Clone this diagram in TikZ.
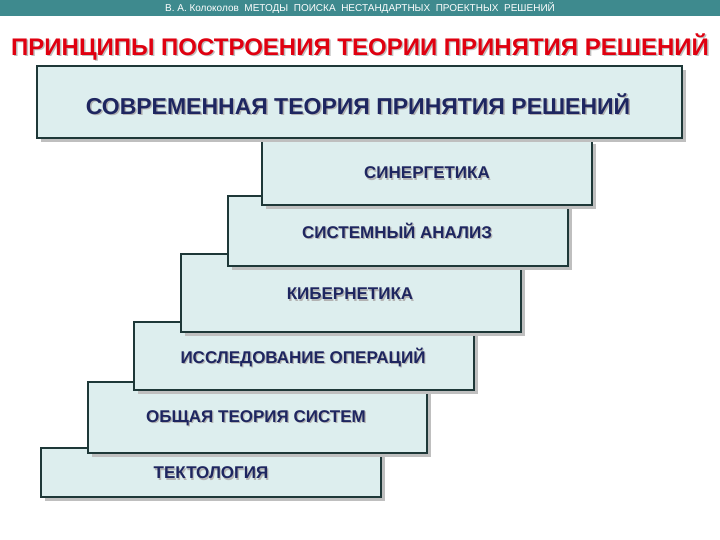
\documentclass[tikz,border=0pt]{standalone}
\usepackage{fontspec}
\setmainfont{Liberation Sans}
\definecolor{bar}{HTML}{3E8A8E}
\definecolor{boxfill}{HTML}{DDEEEE}
\definecolor{boxline}{HTML}{1E3838}
\definecolor{navy}{HTML}{1E2660}
\definecolor{ttl}{HTML}{E00010}
\begin{document}
\begin{tikzpicture}[x=1pt,y=-1pt,
  stepbox/.style={draw=boxline,line width=1.6pt,fill=boxfill},
  shad/.style={fill=black!25},
  lab/.style={font=\bfseries\fontsize{17}{19}\selectfont,text=navy}]
\useasboundingbox (0,0) rectangle (720,540);
\fill[white] (0,0) rectangle (720,540);
\fill[bar] (0,0) rectangle (720,16);
\node[text=white,font=\fontsize{10}{11}\selectfont] (hdr) at (360,8) {В. А. Колоколов \ МЕТОДЫ \ ПОИСКА \ НЕСТАНДАРТНЫХ \ ПРОЕКТНЫХ \ РЕШЕНИЙ};
\node[text=black!25,font=\bfseries\fontsize{24}{27}\selectfont] at (361.5,48.5) {ПРИНЦИПЫ ПОСТРОЕНИЯ ТЕОРИИ ПРИНЯТИЯ РЕШЕНИЙ};
\node[text=ttl,font=\bfseries\fontsize{24}{27}\selectfont] (title) at (360,47) {ПРИНЦИПЫ ПОСТРОЕНИЯ ТЕОРИИ ПРИНЯТИЯ РЕШЕНИЙ};
\foreach \xa/\ya/\xb/\yb/\tx/\ty/\t in {
  41/448/381/497/211/473/ТЕКТОЛОГИЯ,
  88/382/427/453/256/418/ОБЩАЯ ТЕОРИЯ СИСТЕМ,
  134/322/474/390/303/357/ИССЛЕДОВАНИЕ ОПЕРАЦИЙ,
  181/254/521/332/350/294/КИБЕРНЕТИКА,
  228/196/568/266/397/231/СИСТЕМНЫЙ АНАЛИЗ,
  262/140/592/205/427/173/СИНЕРГЕТИКА}{
  \fill[shad] (\xa+4,\ya+4) rectangle (\xb+4,\yb+4);
  \draw[stepbox] (\xa,\ya) rectangle (\xb,\yb);
  \node[lab,text=black!30] at (\tx+1.2,\ty+1.2) {\t};
  \node[lab] at (\tx,\ty) {\t};
}
\fill[shad] (41,70) rectangle (686,142);
\draw[stepbox] (37,66) rectangle (682,138);
\node[lab,font=\bfseries\fontsize{23}{26}\selectfont,text=black!30] at (359.5,105.5) {СОВРЕМЕННАЯ ТЕОРИЯ ПРИНЯТИЯ РЕШЕНИЙ};
\node[lab,font=\bfseries\fontsize{23}{26}\selectfont] (top) at (358,104) {СОВРЕМЕННАЯ ТЕОРИЯ ПРИНЯТИЯ РЕШЕНИЙ};
\end{tikzpicture}
\end{document}
